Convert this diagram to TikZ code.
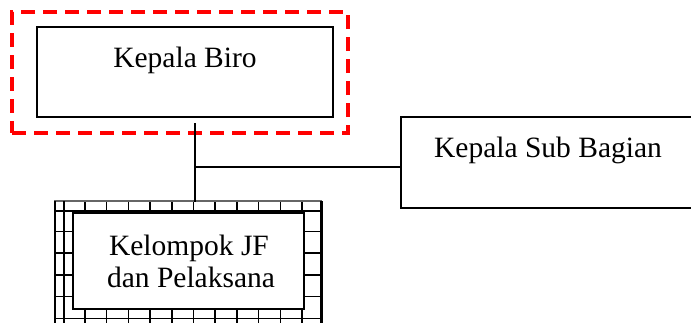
\documentclass[tikz,border=0pt]{standalone}
\usepackage{fontspec}
\setmainfont{Liberation Serif}
\begin{document}
\begin{tikzpicture}[x=1pt,y=-1pt,
  box/.style={draw=black,line width=2pt,fill=white,inner sep=0pt},
  lbl/.style={anchor=base,inner sep=0pt,font=\fontsize{29.5}{32}\selectfont},
  focus/.style={draw=red,line width=3.8pt,dash pattern=on 14pt off 8pt,inner sep=0pt},
  conn/.style={draw=black,line width=1.5pt},
  frame/.style={draw=black,line width=2.2pt},
  tick/.style={draw=black,line width=1.5pt}]
\useasboundingbox (0,0) rectangle (691,322);
% red dashed focus frame
\node[focus,minimum width=336pt,minimum height=121pt] (focusbox) at (180,72.5) {};
% Kepala Biro
\node[box,minimum width=296pt,minimum height=90pt] (biro) at (185,72) {};
\node[lbl] (birot) at (185,67) {Kepala Biro};
% Kepala Sub Bagian (runs off the right edge)
\node[box,minimum width=320pt,minimum height=91pt] (sub) at (561,162.5) {};
\node[lbl] (subt) at (548,157) {Kepala Sub Bagian};
% hatched frame of the lower box
\node[inner sep=0pt,minimum width=268pt,minimum height=128pt] (jfo) at (188,266) {};
\foreach \x in {85,106.7,128.4,150.1,171.8,193.5,215.2,236.9,258.6,280.3,302}{
  \draw[tick] (\x,201) -- (\x,214);
  \draw[tick] (\x,308) -- (\x,330);
}
\foreach \y in {231.5,253.2,274.9,296.6}{
  \draw[tick] (55,\y) -- (73,\y);
  \draw[tick] (304,\y) -- (322,\y);
}
\draw[tick] (54,318.5) -- (322,318.5);
\draw[draw=black!60,line width=1.2pt] (54,201) -- (322,201);
\draw[frame] (54,211) -- (322,211);
\draw[frame] (55,201) -- (55,330);
\draw[frame] (64,201) -- (64,330);
\draw[draw=black,line width=2.8pt] (321.5,201) -- (321.5,330);
% inner box
\node[box,minimum width=231pt,minimum height=96pt] (jf) at (188.5,261) {};
\node[lbl] (jft1) at (189,255) {Kelompok JF};
\node[lbl] (jft2) at (191,287) {dan Pelaksana};
% connectors
\coordinate (stem) at (195,123);
\coordinate (branch) at (195,167);
\draw[conn] (stem) -- (stem |- jfo.north);
\draw[conn] (branch) -- (branch -| sub.west);
\end{tikzpicture}
\end{document}
